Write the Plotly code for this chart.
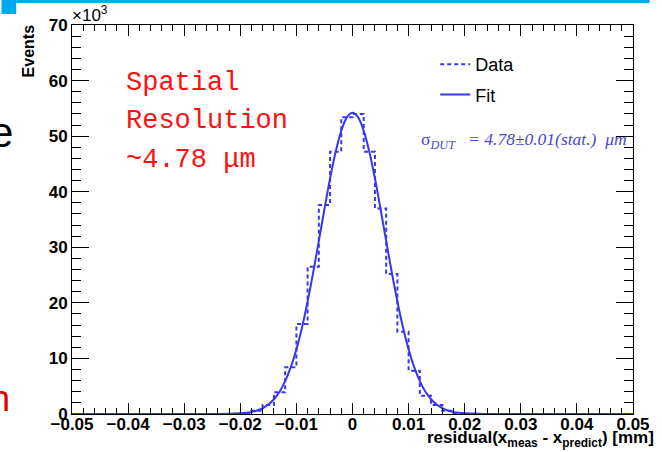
import numpy as np
import plotly.graph_objects as go

# ---------------- data ----------------
bin_low, bin_high, n_bins = -0.05, 0.05, 50
data_counts = ([0] * 14 +
               [50, 200, 600, 1600, 3900, 8400, 16200, 26500, 37600, 47200, 53400,
                54000, 47200, 37000, 25200, 14800, 7800, 3300, 1600, 600, 200, 50] +
               [0] * 14)

fit_x_um = [-50, -25, -22, -20, -19, -18, -17, -16, -15, -14, -13, -12, -11, -10, -9, -8,
            -7, -6, -5, -4, -3, -2, -1, 0, 1, 2, 3, 4, 5, 6, 7, 8, 9, 10, 11, 12, 13,
            14, 15, 16, 17, 18, 19, 20, 22, 25, 50]
fit_y = [0, 0, 30, 115, 210, 370, 630, 1050, 1700, 2660, 4020, 5910, 8420, 11630, 15580,
         20240, 25500, 31150, 36890, 42370, 47190, 50960, 53370, 54200, 53370, 50960,
         47190, 42370, 36890, 31150, 25500, 20240, 15580, 11630, 8420, 5910, 4020, 2660,
         1700, 1050, 630, 370, 210, 115, 30, 0, 0]

x_ticks = [-0.05, -0.04, -0.03, -0.02, -0.01, 0, 0.01, 0.02, 0.03, 0.04, 0.05]
x_tick_text = ["\u22120.05", "\u22120.04", "\u22120.03", "\u22120.02", "\u22120.01", "0",
               "0.01", "0.02", "0.03", "0.04", "0.05"]
y_ticks = [0, 10000, 20000, 30000, 40000, 50000, 60000, 70000]
y_tick_text = ["0", "10", "20", "30", "40", "50", "60", "70"]

# ---------------- figure ----------------
BLUE = "#3737ee"
W, H = 662, 452
L, R, T, B = 72, 17, 25, 38
pw, ph = W - L - R, H - T - B


def px_x(x):
    return (x - L) / pw


def px_y(y):
    return (H - B - y) / ph


edges = np.linspace(bin_low, bin_high, n_bins + 1)
hist_y = list(data_counts) + [data_counts[-1]]

fig = go.Figure()
fig.add_trace(go.Scatter(
    x=edges, y=hist_y, mode="lines", line_shape="hv", name="Data",
    legendgroup="a",
    line=dict(color=BLUE, width=2, dash="4px,3px")))
fig.add_trace(go.Scatter(
    x=np.array(fit_x_um) / 1000.0, y=fit_y, mode="lines", line_shape="spline",
    name="Fit", legendgroup="b",
    line=dict(color=BLUE, width=2)))

tickfont = dict(family="Liberation Sans, Arial, sans-serif", size=17, color="black",
                weight="bold")

fig.update_layout(
    width=W, height=H,
    margin=dict(l=L, r=R, t=T, b=B, pad=0),
    paper_bgcolor="white", plot_bgcolor="white",
    showlegend=True,
    legend=dict(x=px_x(443), y=px_y(46), xanchor="left", yanchor="top",
                bgcolor="rgba(0,0,0,0)", borderwidth=0,
                font=dict(family="Liberation Sans, Arial, sans-serif", size=18,
                          color="black"),
                tracegroupgap=4, traceorder="grouped", itemwidth=30),
    xaxis=dict(range=[bin_low, bin_high], showgrid=False, zeroline=False,
               showline=True, linecolor="black", linewidth=1, mirror="ticks",
               ticks="inside", ticklen=11, tickwidth=1, tickcolor="black",
               tickvals=x_ticks, ticktext=x_tick_text, tickfont=tickfont,
               ticklabelstandoff=-5,
               minor=dict(dtick=0.002, tick0=0, ticks="inside", ticklen=6,
                          tickcolor="black", tickwidth=1, showgrid=False)),
    yaxis=dict(range=[0, 70000], showgrid=False, zeroline=False,
               showline=True, linecolor="black", linewidth=1, mirror="ticks",
               ticks="inside", ticklen=17, tickwidth=1, tickcolor="black",
               tickvals=y_ticks, ticktext=y_tick_text, tickfont=tickfont,
               minor=dict(dtick=2000, tick0=0, ticks="inside", ticklen=9,
                          tickcolor="black", tickwidth=1, showgrid=False)),
)

ann = []
# slide decorations (cropped slide text)
ann.append(dict(text="e", x=px_x(14), y=px_y(132), xref="paper", yref="paper",
                xanchor="right", yanchor="middle", showarrow=False,
                font=dict(family="Liberation Sans, Arial", size=42, color="black")))
ann.append(dict(text="n", x=px_x(11), y=px_y(398), xref="paper", yref="paper",
                xanchor="right", yanchor="middle", showarrow=False,
                font=dict(family="Liberation Sans, Arial", size=36, color="#e00000")))
# y axis title and multiplier
ann.append(dict(text="Events", x=px_x(28), y=px_y(22), xref="paper", yref="paper",
                xanchor="center", yanchor="top", textangle=-90, showarrow=False,
                font=dict(family="Liberation Sans, Arial", size=16, color="black",
                          weight="bold")))
ann.append(dict(text="\u00d710<sup>3</sup>", x=px_x(70), y=px_y(14), xref="paper",
                yref="paper", xanchor="left", yanchor="middle", showarrow=False,
                font=dict(family="Liberation Sans, Arial", size=17, color="black")))
# x axis title
ann.append(dict(text="residual(x<sub>meas</sub> - x<sub>predict</sub>) [mm]",
                x=px_x(669), y=px_y(439), xref="paper", yref="paper",
                xanchor="right", yanchor="middle", showarrow=False,
                font=dict(family="Liberation Sans, Arial", size=17, color="black",
                          weight="bold")))
# red label
red_lines = ["Spatial", "Resolution", "~4.78 \u03bcm"]
for i, t in enumerate(red_lines):
    ann.append(dict(text=t, x=px_x(125), y=px_y(83 + 38.5 * i), xref="paper",
                    yref="paper", xanchor="left", yanchor="middle", showarrow=False,
                    font=dict(family="Liberation Mono, Courier New, monospace",
                              size=27, color="#ff1010")))
# sigma annotation
ann.append(dict(text="\u03c3<sub><i>DUT</i></sub>   <i>= 4.78\u00b10.01(stat.)  \u03bcm</i>",
                x=px_x(426), y=px_y(140), xref="paper", yref="paper",
                xanchor="left", yanchor="middle", showarrow=False,
                font=dict(family="Liberation Serif, Times New Roman, serif", size=17.5,
                          color="#4646d8")))
fig.update_layout(annotations=ann)

# slide top bar decoration
fig.add_shape(type="rect", xref="paper", yref="paper", x0=px_x(0), x1=px_x(15),
              y0=px_y(14), y1=px_y(0), fillcolor="#00a8ec", line_width=0, layer="above")
fig.add_shape(type="rect", xref="paper", yref="paper", x0=px_x(15), x1=px_x(662),
              y0=px_y(3), y1=px_y(0), fillcolor="#00a8ec", line_width=0, layer="above")

fig.write_html("out.html")
